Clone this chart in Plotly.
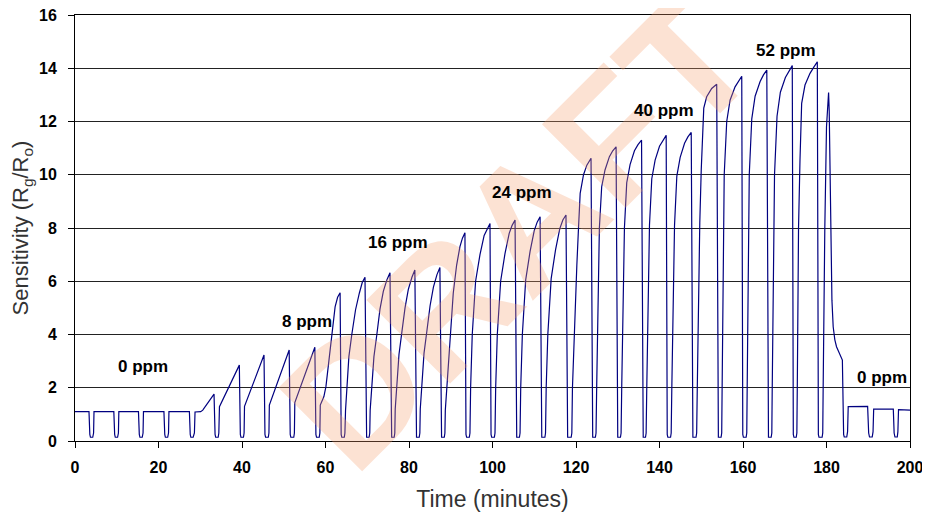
import plotly.graph_objects as go

# ---------------- data ----------------
# 0 ppm baseline at the start
t_0ppm_start = [0, 3.35, 3.55, 3.7, 4.25, 4.45, 4.55,
                9.3, 9.5, 9.65, 10.2, 10.4, 10.5,
                15.2, 15.4, 15.55, 16.1, 16.3, 16.4,
                21.3, 21.5, 21.65, 22.2, 22.4, 22.5,
                27.4, 27.6, 27.75, 28.3, 28.6, 28.75,
                30.1, 30.6, 33.3, 33.55, 33.7, 34.3, 34.45]
s_0ppm_start = [1.1, 1.1, 0.25, 0.14, 0.14, 0.3, 1.1,
                1.1, 0.25, 0.14, 0.14, 0.3, 1.1,
                1.1, 0.25, 0.14, 0.14, 0.3, 1.1,
                1.1, 0.25, 0.14, 0.14, 0.3, 1.1,
                1.1, 0.25, 0.14, 0.14, 0.3, 1.09,
                1.1, 1.16, 1.76, 0.25, 0.14, 0.14, 0.3]

# 8 ppm
t_8ppm = [34.6, 39.36, 39.6, 39.75, 40.35, 40.5,
          40.6, 45.27, 45.5, 45.65, 46.3, 46.45,
          46.55, 51.3, 51.55, 51.7, 52.4, 52.55,
          52.65, 57.45, 57.7, 57.85, 58.5, 58.65]
s_8ppm = [1.29, 2.85, 0.25, 0.14, 0.14, 0.3,
          1.3, 3.23, 0.25, 0.14, 0.14, 0.3,
          1.35, 3.42, 0.25, 0.14, 0.14, 0.3,
          1.44, 3.52, 0.25, 0.14, 0.14, 0.3]

# 16 ppm
t_16ppm = [58.75, 59.6, 60.1, 60.8, 61.5, 62.3, 62.9, 63.5, 63.75, 63.9, 64.5, 64.65,
           64.8, 65.07, 65.6, 66.3, 67.2, 68.1, 68.8, 69.46, 69.7, 69.85, 70.45, 70.6,
           70.7, 71.06, 71.6, 72.3, 73.05, 73.85, 74.7, 75.45, 75.7, 75.85, 76.45, 76.6,
           76.7, 77.05, 77.6, 78.3, 79.05, 79.85, 80.7, 81.4, 81.65, 81.8, 82.45, 82.6,
           82.7, 83.05, 83.6, 84.3, 85.05, 85.85, 86.7, 87.4, 87.65, 87.8, 88.45, 88.6]
s_16ppm = [1.35, 1.66, 2.04, 3.0, 4.1, 5.04, 5.4, 5.57, 0.25, 0.14, 0.14, 0.3,
           1.16, 2.0, 3.17, 4.0, 4.93, 5.55, 5.95, 6.15, 0.25, 0.14, 0.14, 0.3,
           1.16, 2.0, 3.17, 4.0, 4.95, 5.62, 6.05, 6.32, 0.25, 0.14, 0.14, 0.3,
           1.2, 2.05, 3.25, 4.1, 5.0, 5.7, 6.15, 6.42, 0.25, 0.14, 0.14, 0.3,
           1.2, 2.05, 3.3, 4.15, 5.08, 5.78, 6.25, 6.52, 0.25, 0.14, 0.14, 0.3]

# 24 ppm
t_24ppm = [88.7, 89.05, 89.6, 90.1, 90.6, 91.4, 92.2, 92.8, 93.4, 93.65, 93.8, 94.45, 94.6,
           94.76, 95.15, 95.95, 97.0, 98.0, 98.7, 99.4, 99.65, 99.8, 100.45, 100.6,
           100.76, 101.15, 101.95, 103.0, 104.0, 104.7, 105.4, 105.65, 105.8, 106.45, 106.6,
           106.76, 107.15, 107.95, 109.0, 110.0, 110.7, 111.4, 111.65, 111.8, 112.55, 112.7,
           112.86, 113.25, 114.05, 115.1, 116.1, 116.85, 117.6, 117.85, 118.0, 118.85, 119.0]
s_24ppm = [1.16, 2.0, 3.3, 4.6, 5.55, 6.6, 7.3, 7.62, 7.82, 0.25, 0.14, 0.14, 0.3,
           2.0, 4.0, 6.0, 7.0, 7.72, 7.98, 8.17, 0.25, 0.14, 0.14, 0.3,
           2.0, 4.0, 6.0, 7.05, 7.8, 8.1, 8.3, 0.25, 0.14, 0.14, 0.3,
           2.0, 4.0, 6.05, 7.12, 7.9, 8.22, 8.42, 0.25, 0.14, 0.14, 0.3,
           2.0, 4.0, 6.1, 7.18, 7.97, 8.3, 8.49, 0.25, 0.14, 0.14, 0.3]

# 40 ppm
t_40ppm = [119.15, 119.55, 120.2, 120.6, 121.0, 121.8, 122.6, 123.6, 123.85, 124.0, 124.65, 124.8,
           124.95, 125.3, 125.6, 126.15, 126.95, 128.0, 128.8, 129.6, 129.85, 130.0, 130.65, 130.8,
           130.95, 131.3, 131.6, 132.15, 132.95, 134.0, 134.85, 135.7, 135.95, 136.1, 136.65, 136.8,
           136.95, 137.3, 137.6, 138.15, 138.95, 140.0, 140.8, 141.6, 141.85, 142.0, 142.65, 142.8,
           142.95, 143.3, 143.6, 144.15, 144.95, 146.0, 146.8, 147.6, 147.85, 148.0, 148.75, 148.9]
s_40ppm = [2.0, 4.0, 6.6, 8.0, 9.3, 10.0, 10.36, 10.62, 0.25, 0.14, 0.14, 0.3,
           2.0, 6.0, 8.0, 9.55, 10.18, 10.68, 10.9, 11.05, 0.25, 0.14, 0.14, 0.3,
           2.0, 6.0, 8.0, 9.7, 10.38, 10.9, 11.13, 11.3, 0.25, 0.14, 0.14, 0.3,
           2.0, 6.0, 8.1, 9.85, 10.55, 11.07, 11.3, 11.48, 0.25, 0.14, 0.14, 0.3,
           2.0, 6.0, 8.1, 9.95, 10.65, 11.18, 11.42, 11.59, 0.25, 0.14, 0.14, 0.3]

# 52 ppm
t_52ppm = [149.05, 149.35, 149.65, 150.0, 150.4, 150.47, 150.6, 151.3, 152.5, 153.7, 153.95, 154.1, 154.75, 154.9,
           155.0, 155.3, 155.5, 156.1, 156.9, 158.1, 158.9, 159.7, 159.95, 160.1, 160.75, 160.9,
           161.0, 161.3, 161.5, 162.1, 162.9, 164.1, 164.9, 165.7, 165.95, 166.1, 166.75, 166.9,
           167.0, 167.3, 167.55, 168.15, 168.95, 170.15, 171.0, 171.8, 172.05, 172.2, 172.75, 172.9,
           173.0, 173.3, 173.65, 174.05, 174.85, 176.05, 177.0, 177.8, 178.05, 178.2, 178.95, 179.1]
s_52ppm = [2.0, 6.0, 8.2, 10.2, 12.15, 12.05, 12.5, 12.93, 13.24, 13.4, 0.25, 0.14, 0.14, 0.3,
           2.0, 8.0, 10.0, 12.0, 12.8, 13.3, 13.52, 13.7, 0.25, 0.14, 0.14, 0.3,
           2.0, 8.0, 10.0, 12.1, 12.95, 13.5, 13.75, 13.93, 0.25, 0.14, 0.14, 0.3,
           2.0, 8.0, 10.0, 12.2, 13.1, 13.65, 13.9, 14.1, 0.25, 0.14, 0.14, 0.3,
           2.0, 8.0, 10.55, 12.68, 13.37, 13.81, 14.05, 14.24, 0.25, 0.14, 0.14, 0.3]

# last pulse and 0 ppm recovery
t_0ppm_end = [179.2, 179.45, 179.6, 180.0, 180.3, 180.5, 180.65, 180.8, 181.0, 181.3, 181.6, 182.0,
              182.4, 183.2, 183.8, 184.1, 184.25, 184.85, 185.05, 185.2,
              189.85, 190.1, 190.3, 190.95, 191.15, 191.3,
              196.0, 196.2, 196.4, 196.95, 197.1, 197.25, 200.0]
s_0ppm_end = [2.0, 6.0, 8.05, 11.8, 12.8, 13.09, 12.4, 10.55, 6.8, 5.29, 4.29, 3.8,
              3.54, 3.23, 3.04, 0.25, 0.15, 0.15, 0.35, 1.29,
              1.3, 0.3, 0.15, 0.15, 0.35, 1.2,
              1.2, 0.3, 0.15, 0.15, 0.35, 1.18, 1.16]

# concentration labels
label_text = ["0 ppm", "8 ppm", "16 ppm", "24 ppm", "40 ppm", "52 ppm", "0 ppm"]
label_x = [16.3, 55.6, 77.4, 107.1, 141.1, 170.3, 193.3]
label_y = [2.78, 4.47, 7.44, 9.35, 12.43, 14.68, 2.37]

x_ticks = [0, 20, 40, 60, 80, 100, 120, 140, 160, 180, 200]
y_ticks = [0, 2, 4, 6, 8, 10, 12, 14, 16]

# ---------------- figure ----------------
time = (t_0ppm_start + t_8ppm + t_16ppm + t_24ppm + t_40ppm + t_52ppm + t_0ppm_end)
sens = (s_0ppm_start + s_8ppm + s_16ppm + s_24ppm + s_40ppm + s_52ppm + s_0ppm_end)

FONT = "Liberation Sans, Arial, sans-serif"

fig = go.Figure()
fig.add_trace(go.Scatter(x=time, y=sens, mode="lines",
                         line=dict(color="#000080", width=1.2),
                         hoverinfo="skip", showlegend=False))

annotations = [dict(x=106.0, y=7.9, xref="x", yref="y", text="DRAFT", showarrow=False,
                    textangle=-45, opacity=0.3,
                    font=dict(family=FONT, size=172, color="#F7A070", weight="bold"))]
for txt, lx, ly in zip(label_text, label_x, label_y):
    annotations.append(dict(x=lx, y=ly, xref="x", yref="y", text=txt, showarrow=False,
                            font=dict(family=FONT, size=17, color="black", weight="bold")))

# the page body has an 8 px margin, so the figure is 8 px smaller than the window
fig.update_layout(
    width=922, height=512,
    margin=dict(l=67, r=20, t=7, b=79, autoexpand=False),
    paper_bgcolor="white", plot_bgcolor="white",
    font=dict(family=FONT, color="black"),
    showlegend=False,
    annotations=annotations,
    xaxis=dict(range=[0, 200], tickvals=x_ticks, ticks="outside", ticklen=6,
               tickcolor="black", showline=True, linecolor="black", linewidth=1,
               mirror=True, showgrid=False, zeroline=False, automargin=False,
               ticklabelstandoff=6, ticklabeloverflow="allow",
               tickfont=dict(family=FONT, size=16, color="black", weight="bold"),
               title=dict(text="Time (minutes)", standoff=15,
                          font=dict(family=FONT, size=23, color="#333333"))),
    yaxis=dict(range=[0, 16], tickvals=y_ticks, ticks="outside", ticklen=6,
               tickcolor="black", showline=True, linecolor="black", linewidth=1,
               mirror=True, showgrid=True, gridcolor="#222222", gridwidth=1,
               zeroline=False, automargin=False, ticklabelstandoff=8,
               ticklabeloverflow="allow",
               tickfont=dict(family=FONT, size=16, color="black", weight="bold"),
               title=dict(text="Sensitivity (R<sub>g</sub>/R<sub>o</sub>)", standoff=8,
                          font=dict(family=FONT, size=22, color="#333333"))),
)

fig.write_html("out.html")
